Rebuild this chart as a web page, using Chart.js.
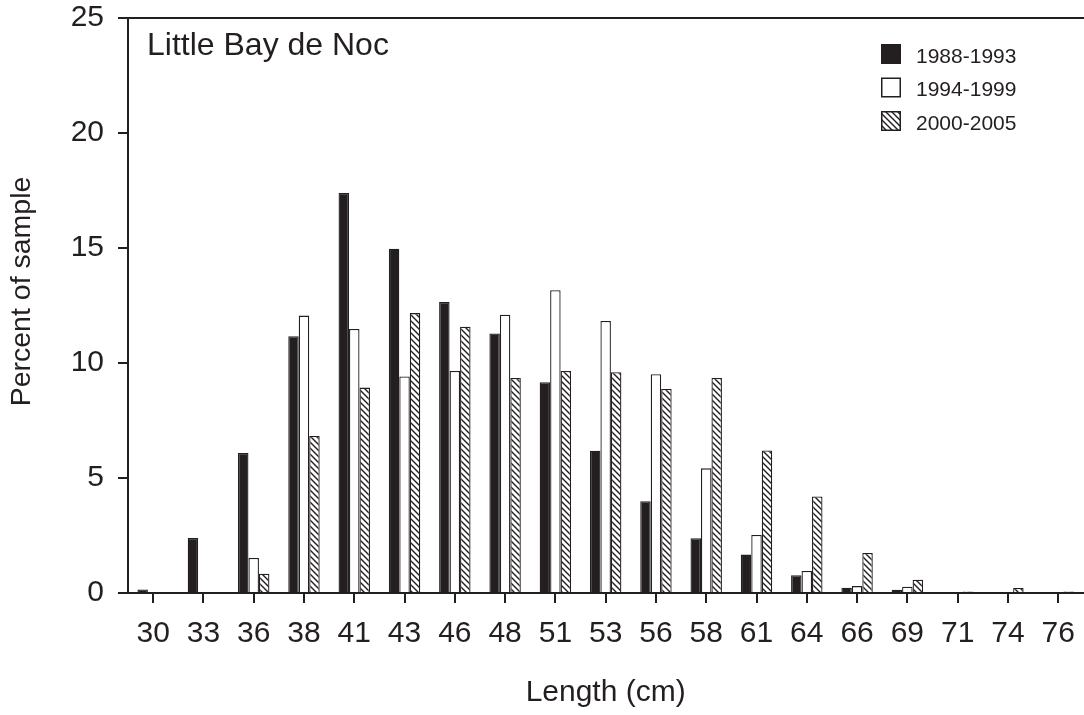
<!DOCTYPE html>
<html lang="en">
<head>
<meta charset="UTF-8">
<title>Little Bay de Noc</title>
<script src="https://cdn.jsdelivr.net/npm/chart.js"></script>
<style>
  html, body { margin: 0; padding: 0; background: #fff; overflow: hidden; }
  .chart-box { width: 1088px; height: 715px; }
</style>
</head>
<body>
<div class="chart-box"><canvas id="lengthChart"></canvas></div>
<script>
const panelTitle = 'Little Bay de Noc';
const yTitle = 'Percent of sample';
const lengths = ['30', '33', '36', '38', '41', '43', '46', '48', '51', '53', '56', '58', '61', '64', '66', '69', '71', '74', '76'];
const seriesNames = ['1988-1993', '1994-1999', '2000-2005'];
const pct1988 = [0.15, 2.39, 6.09, 11.16, 17.39, 14.97, 12.65, 11.28, 9.16, 6.19, 3.99, 2.38, 1.67, 0.77, 0.23, 0.14, 0, 0, 0];
const pct1994 = [0, 0, 1.52, 12.06, 11.48, 9.41, 9.65, 12.1, 13.16, 11.83, 9.51, 5.42, 2.52, 0.96, 0.3, 0.27, 0, 0, 0];
const pct2000 = [0, 0, 0.84, 6.83, 8.93, 12.17, 11.58, 9.35, 9.65, 9.6, 8.87, 9.35, 6.2, 4.2, 1.74, 0.58, 0.07, 0.22, 0.07];
const yTicks = [0, 5, 10, 15, 20, 25];

const ink = '#231f20';
const fontFamily = '"Liberation Sans", Arial, Helvetica, sans-serif';
Chart.defaults.font.family = fontFamily;
Chart.defaults.color = ink;

// diagonal "\" hatch for the last period
function makeHatch() {
    const size = 6;
    const c = document.createElement('canvas');
    c.width = size; c.height = size;
    const g = c.getContext('2d');
    g.fillStyle = '#fff';
    g.fillRect(0, 0, size, size);
    g.strokeStyle = ink;
    g.lineWidth = 1.4;
    g.beginPath();
    g.moveTo(-1, -1); g.lineTo(size + 1, size + 1);
    g.moveTo(-1, size - 1); g.lineTo(1, size + 1);
    g.moveTo(size - 1, -1); g.lineTo(size + 1, 1);
    g.stroke();
    return g.createPattern(c, 'repeat');
}
const hatch = makeHatch();

// panel label, y title and legend
const panelLegend = {
    id: 'panelLegend',
    afterDraw(chart) {
        const ctx = chart.ctx;
        ctx.save();
        ctx.fillStyle = ink;
        ctx.textBaseline = 'alphabetic';
        ctx.font = '32px ' + fontFamily;
        ctx.fillText(panelTitle, 147, 55);

        ctx.save();
        ctx.translate(30, 291.5);
        ctx.rotate(-Math.PI / 2);
        ctx.textAlign = 'center';
        ctx.font = '28.5px ' + fontFamily;
        ctx.fillText(yTitle, 0, 0);
        ctx.restore();

        ctx.font = '21px ' + fontFamily;
        chart.data.datasets.forEach((ds, i) => {
            const top = 44 + i * 33.5;
            ctx.fillStyle = ds.backgroundColor;
            ctx.fillRect(881, top, 20, 20);
            ctx.lineWidth = 1.5;
            ctx.strokeStyle = ink;
            ctx.strokeRect(881.75, top + 0.75, 18.5, 18.5);
            ctx.fillStyle = ink;
            ctx.fillText(ds.label, 916, top + 18.5);
        });
        ctx.restore();
    }
};

new Chart(document.getElementById('lengthChart'), {
    type: 'bar',
    data: {
        labels: lengths,
        datasets: [
            { label: seriesNames[0], data: pct1988, backgroundColor: ink },
            { label: seriesNames[1], data: pct1994, backgroundColor: '#ffffff' },
            { label: seriesNames[2], data: pct2000, backgroundColor: hatch }
        ]
    },
    options: {
        responsive: true,
        maintainAspectRatio: false,
        animation: false,
        layout: { padding: { top: 18, right: 2, left: 0, bottom: 0 } },
        datasets: {
            bar: {
                borderColor: ink,
                borderWidth: 1.3,
                categoryPercentage: 0.625,
                barPercentage: 1.0
            }
        },
        plugins: {
            legend: { display: false },
            tooltip: { enabled: false }
        },
        scales: {
            x: {
                offset: true,
                grid: { offset: false, drawOnChartArea: false, tickLength: 10, color: ink, lineWidth: 2 },
                border: { color: ink, width: 2 },
                ticks: { font: { size: 30 }, color: ink, padding: 13, maxRotation: 0, autoSkip: false },
                title: { display: true, text: 'Length (cm)', font: { size: 30 }, color: ink, padding: { top: 0, bottom: 4 } },
                afterFit: s => { s.height = 122; }
            },
            xTop: {
                type: 'category',
                position: 'top',
                grid: { display: false, drawTicks: false, tickLength: 0 },
                ticks: { display: false },
                border: { display: true, color: ink, width: 2 }
            },
            y: {
                min: 0,
                max: 25,
                afterBuildTicks: s => { s.ticks = yTicks.map(v => ({ value: v })); },
                grid: { drawOnChartArea: false, tickLength: 10, color: ink, lineWidth: 2 },
                border: { color: ink, width: 2 },
                ticks: { font: { size: 30 }, color: ink, padding: 14 },
                afterFit: s => {
                    s.width = 128;
                    s.paddingTop = 0;
                    s.paddingBottom = 0;
                }
            }
        }
    },
    plugins: [panelLegend]
});
</script>
</body>
</html>
